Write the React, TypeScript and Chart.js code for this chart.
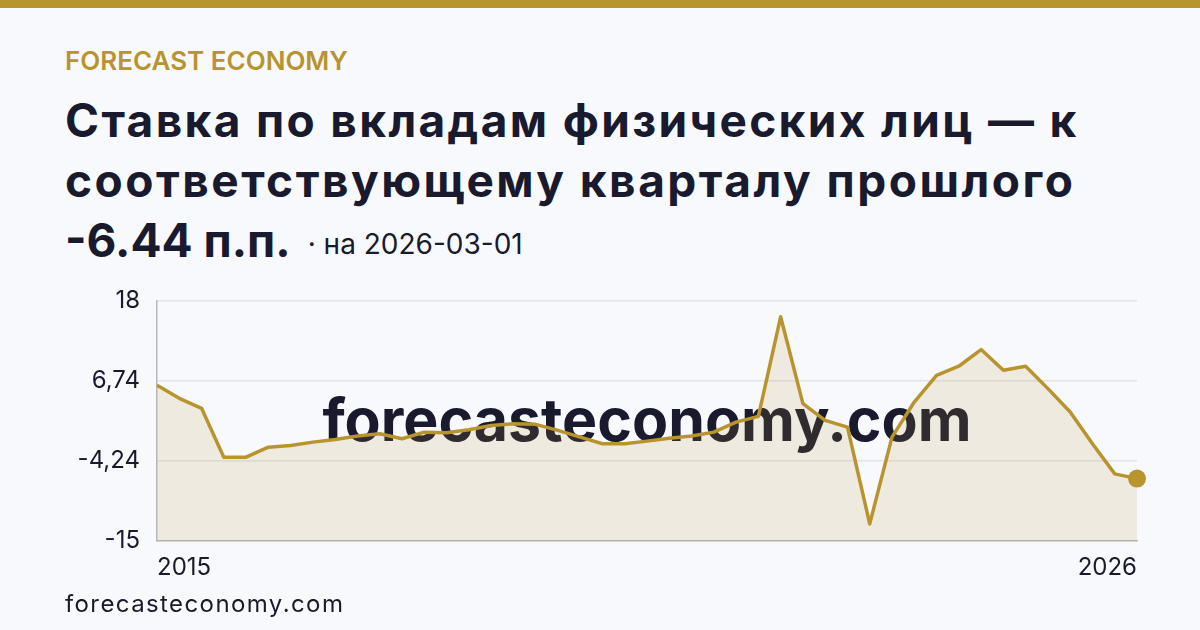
import React, { useEffect, useRef } from "react";
import { Chart, registerables } from "chart.js";

Chart.register(...registerables);

const QUARTERS: string[] = [
  "2015-03", "2015-06", "2015-09", "2015-12",
  "2016-03", "2016-06", "2016-09", "2016-12",
  "2017-03", "2017-06", "2017-09", "2017-12",
  "2018-03", "2018-06", "2018-09", "2018-12",
  "2019-03", "2019-06", "2019-09", "2019-12",
  "2020-03", "2020-06", "2020-09", "2020-12",
  "2021-03", "2021-06", "2021-09", "2021-12",
  "2022-03", "2022-06", "2022-09", "2022-12",
  "2023-03", "2023-06", "2023-09", "2023-12",
  "2024-03", "2024-06", "2024-09", "2024-12",
  "2025-03", "2025-06", "2025-09", "2025-12",
  "2026-03",
];

const DEPOSIT_RATE_CHANGE: number[] = [
  6.35, 4.57, 3.2, -3.5, -3.5, -2.13, -1.9, -1.44, -1.07, -0.6,
  -0.3, -0.98, -0.07, -0.15, 0.26, 0.85, 1.09, 1.0, 0.17, -0.75,
  -1.66, -1.66, -1.3, -0.9, -0.6, -0.07, 1.3, 2.09, 15.75, 3.84,
  1.54, 0.62, -12.66, -0.75, 4.06, 7.73, 8.97, 11.26, 8.42, 8.97,
  5.9, 2.69, -1.66, -5.79, -6.44,
];

const X_EDGE_LABELS: string[] = ["2015", "2026"];
const Y_TICK_VALUES: number[] = [-15, -4, 7, 18];
const Y_TICK_LABELS: string[] = ["-15", "-4,24", "6,74", "18"];

const GOLD = "#b8942f";
const INK = "#1a1a2e";
const BG = "#f8f9fc";
const FONT = "Inter, 'Noto Sans', sans-serif";

function LineChart() {
  const ref = useRef<HTMLCanvasElement | null>(null);
  useEffect(() => {
    if (!ref.current) return;
    const last = DEPOSIT_RATE_CHANGE.length - 1;
    const chart = new Chart(ref.current, {
      type: "line",
      data: {
        labels: QUARTERS,
        datasets: [
          {
            data: DEPOSIT_RATE_CHANGE,
            borderColor: GOLD,
            borderWidth: 3.5,
            backgroundColor: "rgba(184,148,47,0.14)",
            fill: "start",
            tension: 0,
            borderJoinStyle: "round",
            pointRadius: DEPOSIT_RATE_CHANGE.map((_, i) => (i === last ? 9 : 0)),
            pointBackgroundColor: GOLD,
            pointBorderWidth: 0,
            pointHoverRadius: 0,
          },
        ],
      },
      options: {
        animation: false,
        responsive: true,
        maintainAspectRatio: false,
        layout: { padding: { top: 20, right: 20, bottom: 0, left: 0 } },
        plugins: { legend: { display: false }, tooltip: { enabled: false } },
        scales: {
          x: {
            grid: { display: false, drawTicks: false },
            border: { display: true, color: "#b9b8be", width: 1.5 },
            afterFit: (s: any) => {
              s.height = 50;
            },
            ticks: {
              autoSkip: false,
              maxRotation: 0,
              align: "inner",
              padding: 12,
              color: INK,
              font: { family: FONT, size: 24 },
              callback: (_v: any, i: number) =>
                i === 0 ? X_EDGE_LABELS[0] : i === last ? X_EDGE_LABELS[1] : "",
            },
          },
          y: {
            min: -15,
            max: 18,
            afterBuildTicks: (s: any) => {
              s.ticks = Y_TICK_VALUES.map((v) => ({ value: v }));
            },
            afterFit: (s: any) => {
              s.width = 97;
            },
            grid: { color: "#e3e4ea", lineWidth: 1.5, drawTicks: false },
            border: { display: true, color: "#b9b8be", width: 1.5 },
            ticks: {
              padding: 17,
              color: INK,
              font: { family: FONT, size: 24 },
              callback: (_v: any, i: number) => Y_TICK_LABELS[i],
            },
          },
        },
      },
    });
    return () => chart.destroy();
  }, []);
  return <canvas ref={ref} />;
}

export default function App() {
  return (
    <div
      style={{
        position: "fixed",
        left: 0,
        top: 0,
        width: 1200,
        height: 630,
        background: BG,
        overflow: "hidden",
        fontFamily: FONT,
        color: INK,
      }}
    >
      <div style={{ position: "absolute", left: 0, top: 0, width: 1200, height: 8, background: GOLD }} />
      <div
        style={{
          position: "absolute",
          left: 65,
          top: 45,
          fontSize: 26,
          fontWeight: 600,
          color: GOLD,
          lineHeight: "31px",
          whiteSpace: "nowrap",
        }}
      >
        FORECAST ECONOMY
      </div>
      <div
        style={{
          position: "absolute",
          left: 65,
          top: 90,
          fontSize: 46,
          fontWeight: 700,
          lineHeight: "60px",
          whiteSpace: "nowrap",
        }}
      >
        <div style={{ letterSpacing: "2.35px" }}>Ставка по вкладам физических лиц — к</div>
        <div style={{ letterSpacing: "2.5px" }}>соответствующему кварталу прошлого</div>
        <div>
          -6.44 п.п.
          <span style={{ fontSize: 28, fontWeight: 400, marginLeft: 17, position: "relative", top: -3 }}>
            · на 2026-03-01
          </span>
        </div>
      </div>
      <div
        style={{
          position: "absolute",
          left: 147,
          top: 380,
          width: 1000,
          height: 80,
          lineHeight: "80px",
          textAlign: "center",
          fontSize: 59,
          fontWeight: 700,
          color: INK,
          whiteSpace: "nowrap",
        }}
      >
        forecasteconomy.com
      </div>
      <div style={{ position: "absolute", left: 60, top: 269, width: 1097, height: 322 }}>
        <LineChart />
      </div>
      <div
        style={{
          position: "absolute",
          left: 65,
          top: 589,
          fontSize: 24,
          lineHeight: "29px",
          letterSpacing: "1.4px",
          whiteSpace: "nowrap",
        }}
      >
        forecasteconomy.com
      </div>
    </div>
  );
}
